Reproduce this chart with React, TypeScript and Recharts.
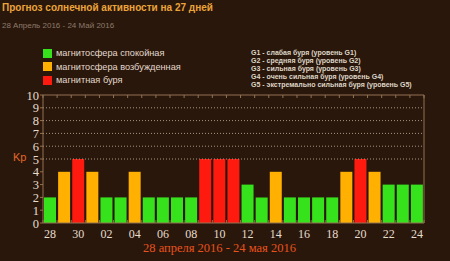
import React from 'react';
import { BarChart, Bar, XAxis, YAxis, Cell, ReferenceLine } from 'recharts';

const days = ['28','29','30','01','02','03','04','05','06','07','08','09','10','11','12','13','14','15','16','17','18','19','20','21','22','23','24'];
const kpValues = [2,4,5,4,2,2,4,2,2,2,2,5,5,5,3,2,4,2,2,2,2,4,5,4,3,3,3];
const kpTicks = [0,1,2,3,4,5,6,7,8,9,10];
const gridLevels = [5,6,7,8,9];
const gLabels: Record<number, string> = { 5: 'G1', 6: 'G2', 7: 'G3', 8: 'G4', 9: 'G5' };

const title = 'Прогноз солнечной активности на 27 дней';
const subtitle = '28 Апрель 2016 - 24 Май 2016';
const bottomLabel = '28 апреля 2016 - 24 мая 2016';
const legendLeft = ['магнитосфера спокойная', 'магнитосфера возбужденная', 'магнитная буря'];
const legendColors = ['#35e21c', '#ffb000', '#ff1a10'];
const legendRight = [
  'G1 - слабая буря (уровень G1)',
  'G2 - средняя буря (уровень G2)',
  'G3 - сильная буря (уровень G3)',
  'G4 - очень сильная буря (уровень G4)',
  'G5 - экстремально сильная буря (уровень G5)',
];

const data = days.map((d, i) => ({ day: d, kp: kpValues[i] }));

const colorFor = (v: number) => (v >= 5 ? legendColors[2] : v >= 4 ? legendColors[1] : legendColors[0]);

const axisColor = '#927353';
const bg = '#2a170b';

const CHART_W = 450;
const CHART_H = 261;
const M_LEFT = 43;
const M_RIGHT = 26;
const M_TOP = 95;
const M_BOTTOM = 38;
const bandW = (CHART_W - M_LEFT - M_RIGHT) / days.length;

const XTick = (props: any) => {
  const { x, y, payload, index } = props;
  const last = index === days.length - 1;
  return (
    <g>
      <line x1={x - bandW / 2} y1={y} x2={x - bandW / 2} y2={y - 3} stroke={axisColor} />
      {last ? <line x1={x + bandW / 2} y1={y} x2={x + bandW / 2} y2={y - 3} stroke={axisColor} /> : null}
      {index % 2 === 0 ? (
        <text x={x} y={y + 15} textAnchor="middle" fill="#e4dccd" fontSize={12} fontFamily="'Liberation Serif', serif">
          {payload.value}
        </text>
      ) : null}
    </g>
  );
};

const TopTick = (props: any) => {
  const { x, y, index } = props;
  const last = index === days.length - 1;
  return (
    <g>
      <line x1={x - bandW / 2} y1={y} x2={x - bandW / 2} y2={y + 3} stroke={axisColor} />
      {last ? <line x1={x + bandW / 2} y1={y} x2={x + bandW / 2} y2={y + 3} stroke={axisColor} /> : null}
    </g>
  );
};

const LeftTick = (props: any) => {
  const { x, y, payload } = props;
  return (
    <g>
      <line x1={x - 3} y1={y} x2={x} y2={y} stroke={axisColor} />
      <text x={x - 4} y={y + 4.5} textAnchor="end" fill="#e4dccd" fontSize={12.5} fontFamily="'Liberation Serif', serif">
        {payload.value}
      </text>
    </g>
  );
};

const GTick = (props: any) => {
  const { x, y, payload } = props;
  const label = gLabels[payload.value];
  return (
    <g>
      <line x1={x - 4} y1={y} x2={x} y2={y} stroke={axisColor} />
      {label ? (
        <text x={x + 4} y={y + 3} fill="#cfc6b6" fontSize={8} fontWeight="bold" fontFamily="'DejaVu Sans', sans-serif">
          {label}
        </text>
      ) : null}
    </g>
  );
};

export default function App() {
  return (
    <div style={{ position: 'absolute', left: 0, top: 0, width: CHART_W, height: CHART_H, background: bg, overflow: 'hidden', fontFamily: "'Liberation Sans', sans-serif" }}>
      <div style={{ position: 'absolute', left: 2, top: 2, fontSize: 10, fontWeight: 'bold', color: '#eba43a', whiteSpace: 'nowrap' }}>{title}</div>
      <div style={{ position: 'absolute', left: 2, top: 21, fontSize: 8, color: '#8a7b6c', whiteSpace: 'nowrap' }}>{subtitle}</div>
      {legendLeft.map((t, i) => (
        <div key={t} style={{ position: 'absolute', left: 43, top: 48 + i * 13.5, height: 10, display: 'flex', alignItems: 'center', whiteSpace: 'nowrap' }}>
          <div style={{ width: 9, height: 9, background: legendColors[i], marginRight: 4 }} />
          <span style={{ fontSize: 9.2, color: '#e2dacd' }}>{t}</span>
        </div>
      ))}
      {legendRight.map((t, i) => (
        <div key={t} style={{ position: 'absolute', left: 251, top: 48.5 + i * 8, fontSize: 7, lineHeight: '8px', fontWeight: 'bold', color: '#ddd5c7', whiteSpace: 'nowrap' }}>{t}</div>
      ))}
      <div style={{ position: 'absolute', left: 13, top: 151, fontSize: 11, color: '#e2672a', whiteSpace: 'nowrap' }}>Kp</div>
      <div style={{ position: 'absolute', left: 143, top: 241, fontSize: 12.5, color: '#e8521c', fontFamily: "'Liberation Serif', serif", whiteSpace: 'nowrap' }}>{bottomLabel}</div>
      <div style={{ position: 'absolute', left: 0, top: 0 }}>
        <BarChart width={CHART_W} height={CHART_H} data={data} margin={{ top: 0, right: 0, bottom: 0, left: 0 }} barCategoryGap={1}>
          <XAxis xAxisId="cat" dataKey="day" height={M_BOTTOM} interval={0} stroke={axisColor} axisLine={{ stroke: axisColor }} tickLine={false} tickSize={0} tickMargin={0} tick={<XTick />} />
          <XAxis xAxisId="top" orientation="top" dataKey="day" height={M_TOP} interval={0} stroke={axisColor} axisLine={{ stroke: axisColor }} tickLine={false} tickSize={0} tickMargin={0} tick={<TopTick />} />
          <YAxis yAxisId="left" domain={[0, 10]} ticks={kpTicks} interval={0} width={M_LEFT} stroke={axisColor} axisLine={{ stroke: axisColor }} tickLine={false} tickSize={0} tickMargin={0} tick={<LeftTick />} />
          <YAxis yAxisId="right" orientation="right" domain={[0, 10]} ticks={kpTicks} interval={0} width={M_RIGHT} stroke={axisColor} axisLine={{ stroke: axisColor }} tickLine={false} tickSize={0} tickMargin={0} tick={<GTick />} />
          {gridLevels.map((v) => (
            <ReferenceLine key={v} xAxisId="cat" yAxisId="left" y={v} stroke="#a89680" strokeDasharray="1 2" />
          ))}
          <Bar xAxisId="cat" yAxisId="left" dataKey="kp" isAnimationActive={false}>
            {data.map((d, i) => (
              <Cell key={i} fill={colorFor(d.kp)} />
            ))}
          </Bar>
        </BarChart>
      </div>
    </div>
  );
}
